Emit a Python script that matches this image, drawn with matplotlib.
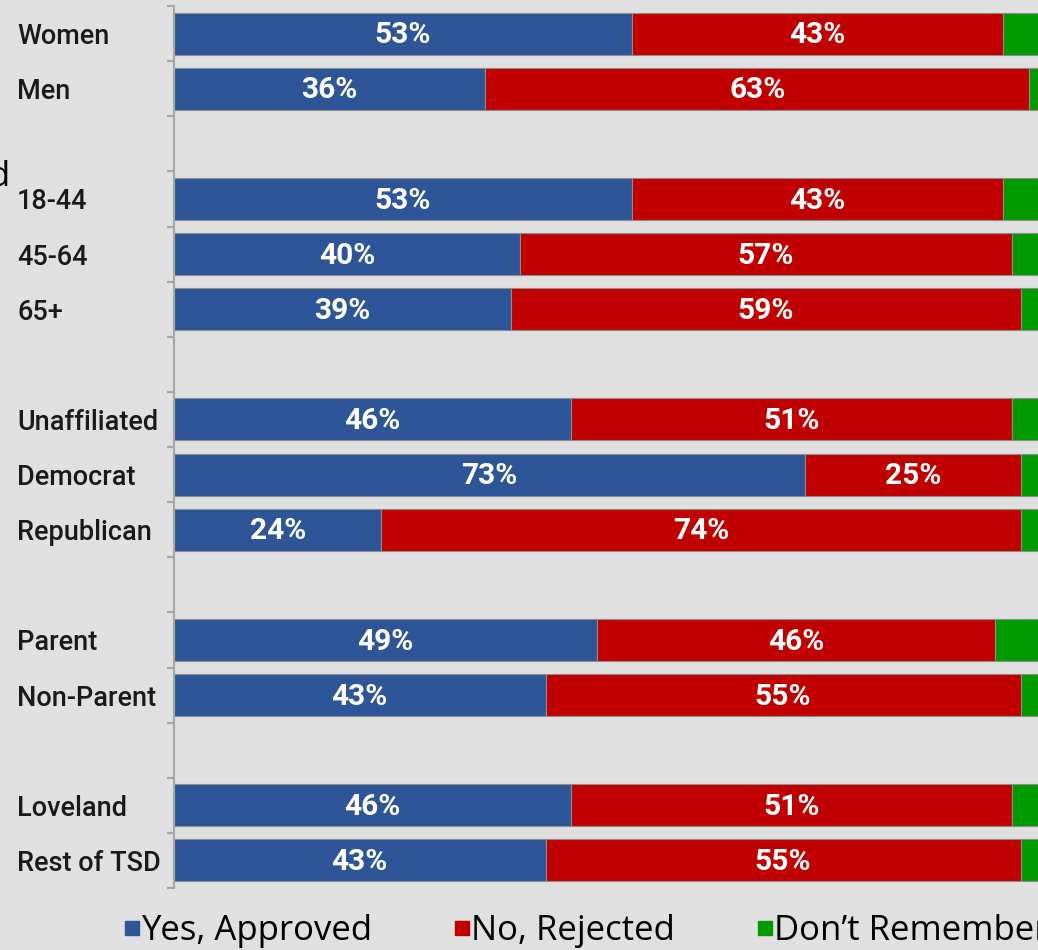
import matplotlib.pyplot as plt
import numpy as np
from matplotlib.lines import Line2D

# Data
groups = [
    ['Women', 'Men'],
    ['18-44', '45-64', '65+'],
    ['Unaffiliated', 'Democrat', 'Republican'],
    ['Parent', 'Non-Parent'],
    ['Loveland', 'Rest of TSD'],
]
approved = [53, 36, 53, 40, 39, 46, 73, 24, 49, 43, 46, 43]
rejected = [43, 63, 43, 57, 59, 51, 25, 74, 46, 55, 51, 55]
dont_remember = [4, 1, 4, 3, 2, 3, 2, 2, 5, 2, 3, 2]
series_names = ['Yes, Approved', 'No, Rejected', 'Don\u2019t Remember']
colors = ['#2E5597', '#C00000', '#009A00']

# slot positions: one empty slot between groups
labels = []
pos = []
slot = 0
for g in groups:
    for name in g:
        labels.append(name)
        pos.append(slot)
        slot += 1
    slot += 1
n_slots = slot - 1
pos = np.array(pos)

plt.rcParams['font.family'] = ['Roboto', 'DejaVu Sans']

fig = plt.figure(figsize=(10.38, 9.5), dpi=100)
fig.patch.set_facecolor('#e0e0e0')
ax = fig.add_axes([174 / 1038, 62 / 950, 1 - 174 / 1038, 882 / 950])
ax.set_facecolor('#e0e0e0')

left = np.zeros(len(labels))
for vals, col in zip([approved, rejected, dont_remember], colors):
    vals = np.array(vals)
    bars = ax.barh(pos, vals, left=left, height=0.76, color=col,
                   edgecolor='#8c8c8c', linewidth=0.8)
    if col != colors[2]:
        for b, v in zip(bars, vals):
            ax.text(b.get_x() + b.get_width() / 2, b.get_y() + b.get_height() / 2 + 0.03,
                    f'{v}%', ha='center', va='center', color='white',
                    fontsize=21.5, fontweight='bold')
    left += vals

ax.set_xlim(0, 100)
ax.set_ylim(n_slots - 0.5, -0.5)

ax.set_yticks(pos)
ax.set_yticklabels(labels, fontsize=19.5, ha='left', color='#1a1a1a',
                   fontweight='medium')
ax.tick_params(axis='y', length=0, pad=113)
ax.set_yticks(np.arange(-0.5, n_slots, 1), minor=True)
ax.tick_params(axis='y', which='minor', length=5, width=1.5, color='#a6a6a6')
ax.set_xticks([])

for s in ['top', 'right', 'bottom']:
    ax.spines[s].set_visible(False)
ax.spines['left'].set_color('#a6a6a6')
ax.spines['left'].set_linewidth(1.5)

# legend
handles = [Line2D([], [], marker='s', linestyle='none', markersize=10,
                  color=c) for c in colors]
fig.legend(handles, series_names, loc='lower left',
           bbox_to_anchor=(94 / 1038, -0.031), ncol=3, frameon=False,
           prop={'family': 'Open Sans', 'size': 25},
           handlelength=0.4, handletextpad=0.05, columnspacing=2.4)

# clipped text fragment at the left edge
fig.text(9 / 1038, 1 - 177 / 950, 'd', ha='right', va='center',
         fontsize=25, family='Open Sans')

fig.savefig('out.png', dpi=100, facecolor=fig.get_facecolor())
